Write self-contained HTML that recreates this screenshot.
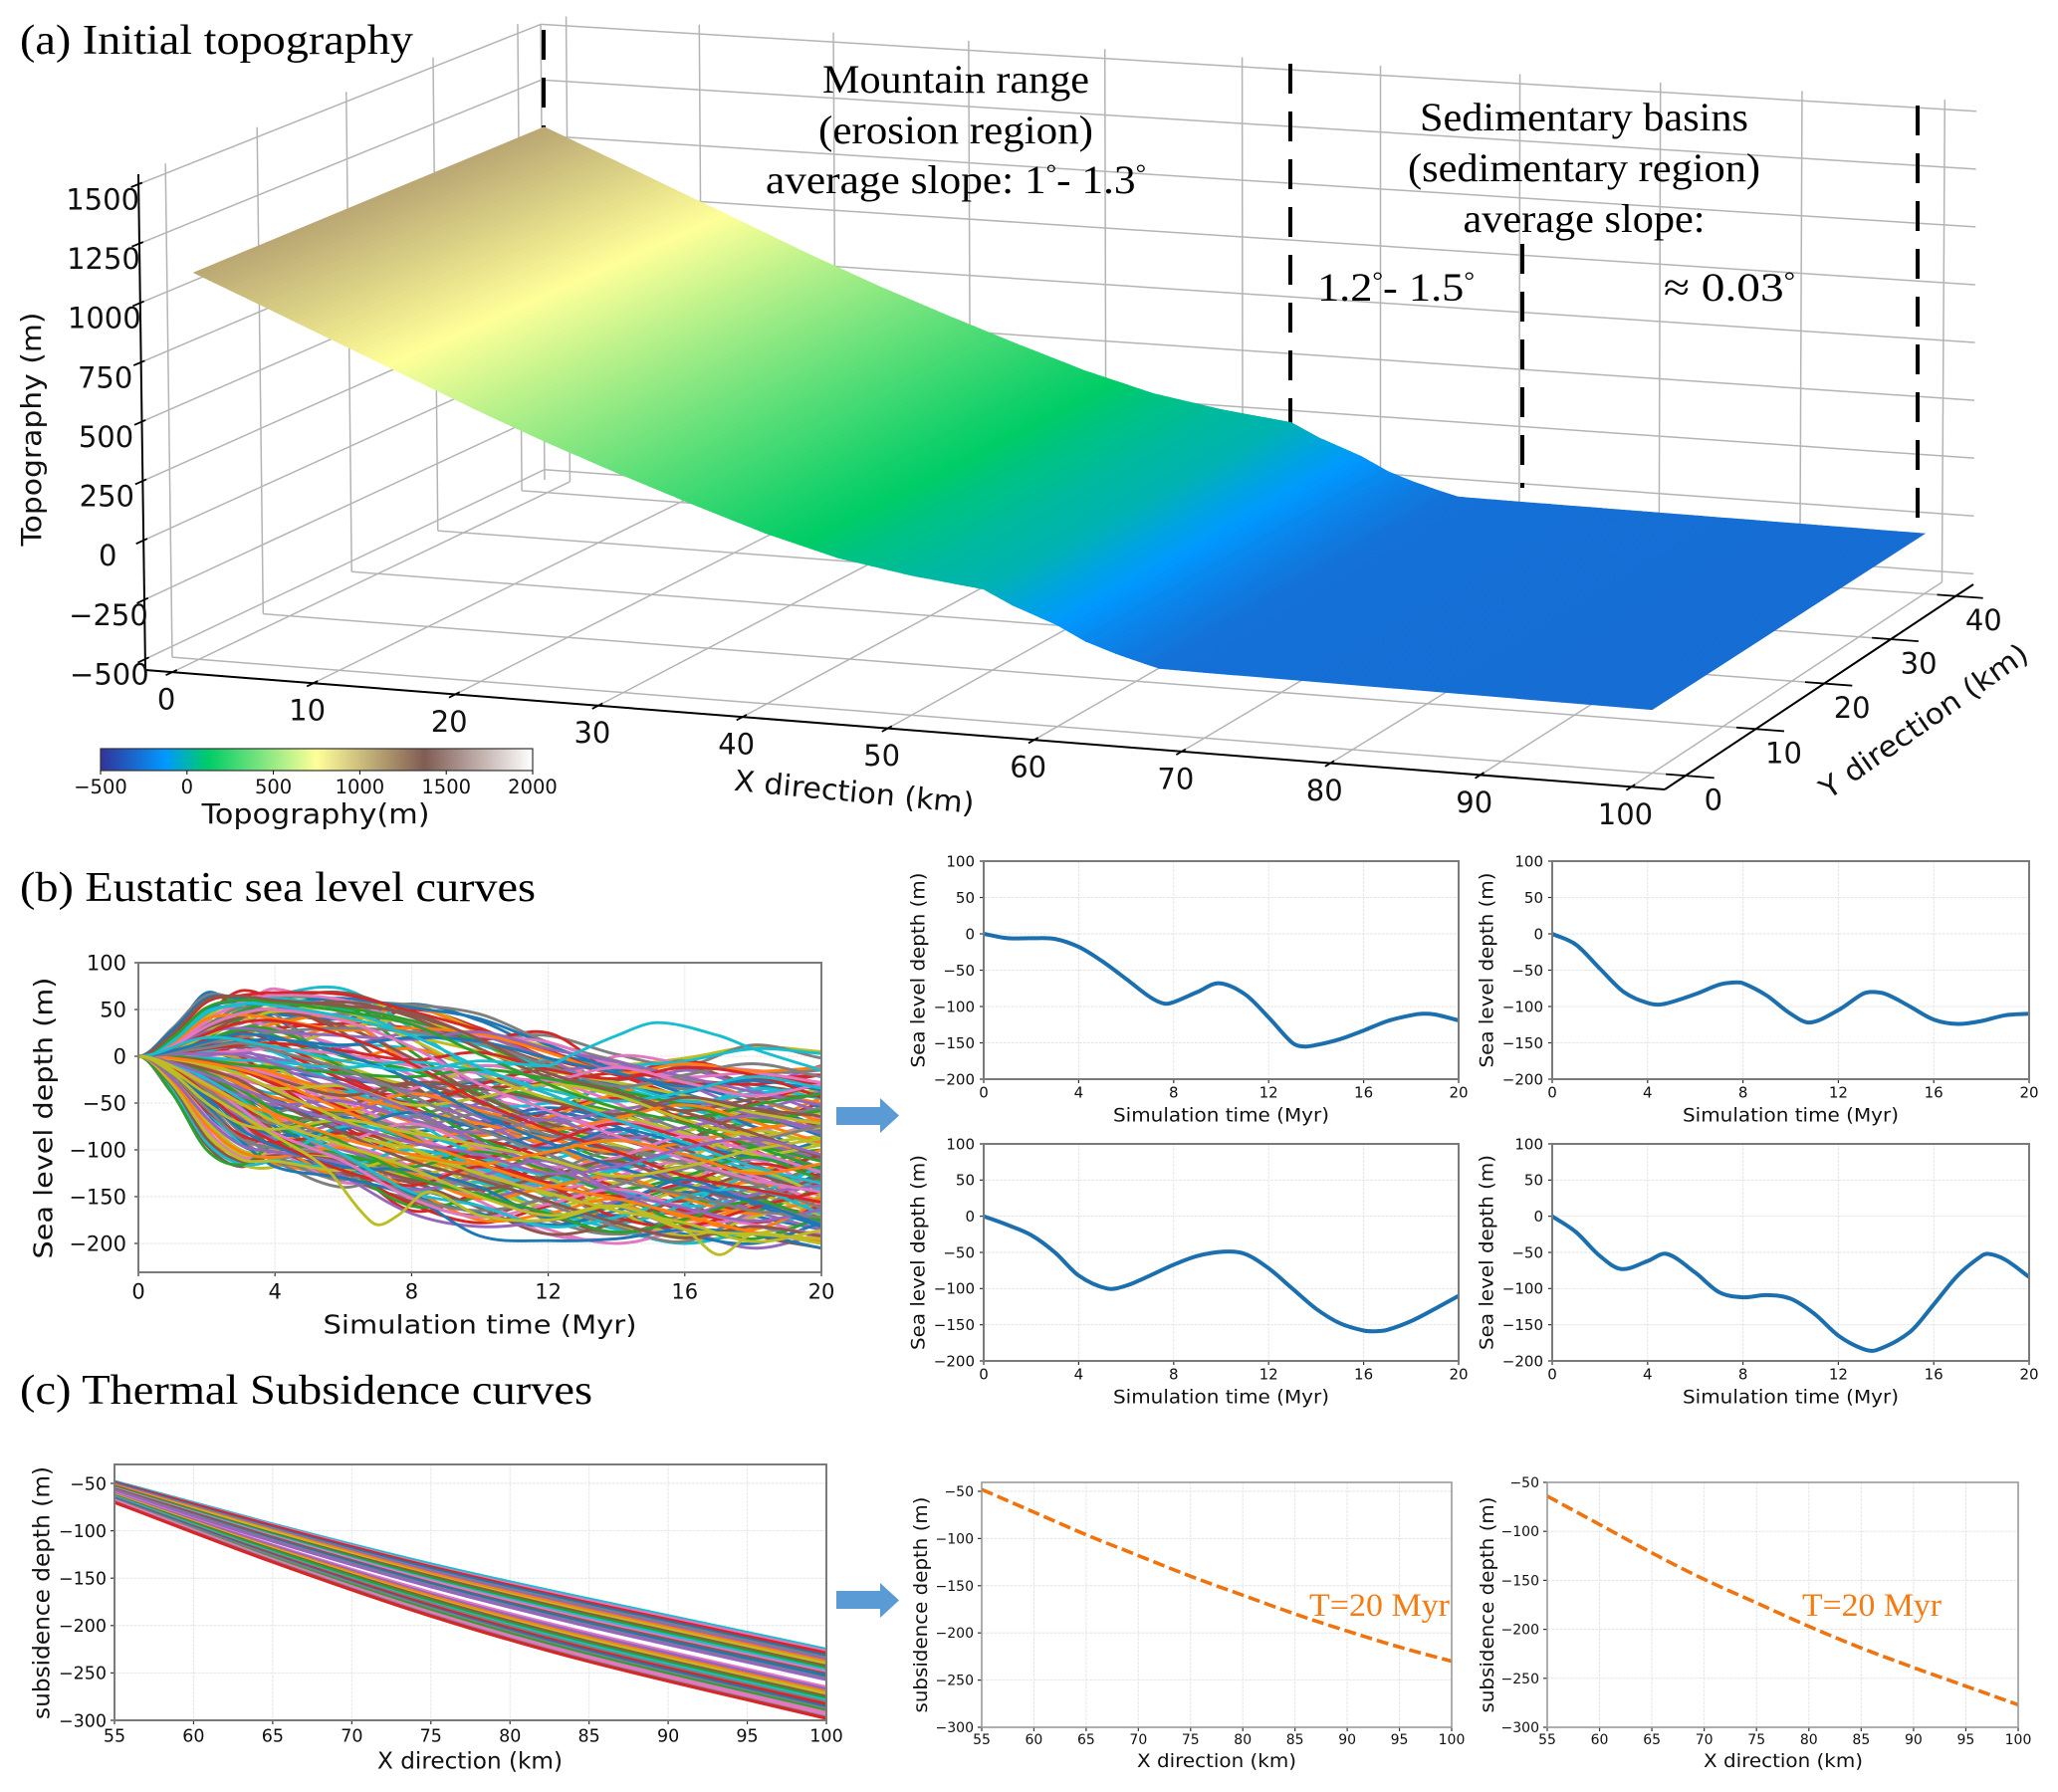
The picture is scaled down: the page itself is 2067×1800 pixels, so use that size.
<!DOCTYPE html>
<html lang="en">
<head>
<meta charset="utf-8">
<title>Initial topography, eustatic sea level and thermal subsidence curves</title>
<style>
html,body{margin:0;padding:0;background:#fff;}
svg{display:block;}
.serif{font-family:"Liberation Serif",serif;fill:#000;}
.sans{font-family:"DejaVu Sans",sans-serif;fill:#111;}
</style>
</head>
<body>
<svg id="fig" xmlns="http://www.w3.org/2000/svg" width="2067" height="1800" viewBox="0 0 2067 1800">
  <rect x="0" y="0" width="2067" height="1800" fill="#fff"/>
  <defs>
    <linearGradient id="terrainGrad" x1="0" y1="0" x2="1" y2="0"></linearGradient>
    <clipPath id="clipB"><rect x="139" y="967" width="686" height="311"/></clipPath>
    <clipPath id="clipC"><rect x="115" y="1471" width="715" height="257"/></clipPath>
  </defs>
  <g id="layer3d"></g>
  <g id="layerPlots"></g>

  <text class="serif" x="20" y="54" font-size="42" textLength="395" lengthAdjust="spacingAndGlyphs">(a) Initial topography</text>
  <text class="serif" x="20" y="905" font-size="42" textLength="518" lengthAdjust="spacingAndGlyphs">(b) Eustatic sea level curves</text>
  <text class="serif" x="20" y="1410" font-size="42" textLength="575" lengthAdjust="spacingAndGlyphs">(c) Thermal Subsidence curves</text>

  <text class="serif" x="960" y="93" font-size="40" text-anchor="middle" textLength="268" lengthAdjust="spacingAndGlyphs">Mountain range</text>
  <text class="serif" x="960" y="144" font-size="40" text-anchor="middle" textLength="276" lengthAdjust="spacingAndGlyphs">(erosion region)</text>
  <text class="serif" x="769" y="194" font-size="40" textLength="382" lengthAdjust="spacingAndGlyphs">average slope: 1<tspan dy="-12" font-size="24">°</tspan><tspan dy="12">- 1.3</tspan><tspan dy="-12" font-size="24">°</tspan></text>
  <text class="serif" x="1591" y="131" font-size="40" text-anchor="middle" textLength="330" lengthAdjust="spacingAndGlyphs">Sedimentary basins</text>
  <text class="serif" x="1591" y="182" font-size="40" text-anchor="middle" textLength="354" lengthAdjust="spacingAndGlyphs">(sedimentary region)</text>
  <text class="serif" x="1591" y="233" font-size="40" text-anchor="middle" textLength="243" lengthAdjust="spacingAndGlyphs">average slope:</text>
  <text class="serif" x="1323" y="302" font-size="40" textLength="158" lengthAdjust="spacingAndGlyphs">1.2<tspan dy="-12" font-size="24">°</tspan><tspan dy="12">- 1.5</tspan><tspan dy="-12" font-size="24">°</tspan></text>
  <text class="serif" x="1671" y="302" font-size="40" textLength="132" lengthAdjust="spacingAndGlyphs">≈ 0.03<tspan dy="-12" font-size="24">°</tspan></text>

  <text class="serif" x="1315" y="1623" font-size="33" style="fill:#f57c13" textLength="141" lengthAdjust="spacingAndGlyphs">T=20 Myr</text>
  <text class="serif" x="1810" y="1623" font-size="33" style="fill:#f57c13" textLength="140" lengthAdjust="spacingAndGlyphs">T=20 Myr</text>

  <polygon fill="#5b9bd5" points="840,1112 884,1112 884,1103 903,1120.5 884,1138 884,1130 840,1130"/>
  <polygon fill="#5b9bd5" points="840,1598 884,1598 884,1590 903,1607.5 884,1625 884,1616 840,1616"/>
</svg>
<script>
/* ---------- 3D surface data ---------- */
const topoX = [0,5,10,15,20,25,30,35,40,45,50,55,57,60,62,64,66,67,70,80,90,100];
const topoZ = [1088,965,840,716,591,474,366,263,165,85,35,0,-58,-125,-185,-225,-258,-273,-275,-279,-283,-287];
const xTicks3d = [0,10,20,30,40,50,60,70,80,90,100];
const yTicks3d = [0,10,20,30,40];
const zTicks3d = [-500,-250,0,250,500,750,1000,1250,1500];
const cbarTicks = [-500,0,500,1000,1500,2000];

/* ---------- sea-level data ---------- */
const spagT = [0,1,2,3,4,6,8,10,12,14,16,18,20];
const spagRows = [
[0,25,68,50,45,40,56,38,5,-12,-30,-50,-75],
[0,15,45,70,60,30,50,30,-2,-20,-45,-70,-50],
[0,12,40,55,72,45,-5,-30,-50,-45,-60,-90,-120],
[0,10,30,50,65,72,30,-20,-60,-90,-80,-60,-85],
[0,20,60,58,35,-10,-40,-30,-10,-30,-70,-110,-100],
[0,8,25,45,60,68,45,18,-8,-25,-12,-30,-40],
[0,14,42,60,55,50,55,28,10,-8,-2,10,5],
[0,18,52,45,20,35,52,25,-5,-30,-60,-70,-45],
[0,10,28,35,50,60,20,-35,-65,-40,-15,-35,-60],
[0,6,18,30,38,45,35,20,22,2,-10,12,-2],
[0,16,50,58,40,5,-25,-60,-85,-70,-40,-30,-55],
[0,5,15,25,30,35,30,18,25,-15,-5,-20,-30],
[0,12,35,40,30,10,-20,-45,-30,0,-8,-15,-20],
[0,9,22,15,5,12,8,-10,-5,-10,-5,8,3],
[0,7,20,40,62,55,5,-45,-85,-110,-90,-70,-80],
[0,11,30,48,55,25,-30,-70,-60,-30,-50,-85,-70],
[0,13,38,25,10,30,38,15,-30,-65,-80,-50,-35],
[0,6,12,22,35,40,-10,-50,-95,-120,-100,-90,-110],
[0,4,14,8,-5,10,25,22,-3,-35,-15,-30,-10],
[0,10,33,52,45,-20,-60,-40,-5,-15,-35,-20,-15],
[0,3,6,-5,-15,-25,-30,-28,-25,-30,-45,-60,-85],
[0,2,-2,-12,-22,-35,-42,-35,-28,-18,-25,-30,-20],
[0,-3,-12,-25,-32,-30,-40,-45,-60,-80,-100,-90,-70],
[0,-4,-15,-30,-40,-38,-48,-55,-50,-35,-55,-75,-95],
[0,-6,-20,-40,-60,-70,-55,-35,-45,-60,-85,-105,-100],
[0,1,5,10,5,-15,-35,-60,-80,-100,-125,-140,-120],
[0,2,8,18,12,-10,-30,-15,-25,-55,-45,-65,-60],
[0,-2,-8,-18,-15,-5,8,-15,-40,-70,-60,-40,-50],
[0,4,10,2,-10,-40,-65,-50,-20,-10,-30,-55,-38],
[0,-5,-18,-35,-50,-75,-45,-25,-40,-75,-95,-70,-55],
[0,-8,-28,-45,-55,-65,-80,-70,-55,-65,-50,-75,-110],
[0,3,12,25,15,-20,-55,-75,-60,-45,-70,-100,-130],
[0,1,-1,-6,-20,-50,-35,-10,-25,-50,-85,-80,-65],
[0,-3,-10,-15,-8,-30,-60,-95,-110,-85,-60,-35,-45],
[0,5,16,30,28,0,-15,-40,-75,-95,-115,-125,-105],
[0,-7,-22,-48,-70,-55,-30,-50,-85,-105,-90,-60,-75],
[0,-6,-25,-52,-68,-90,-75,-55,-70,-95,-115,-95,-85],
[0,2,4,-3,-18,-45,-70,-85,-65,-40,-25,-45,-70],
[0,-2,-6,-12,-28,-60,-40,-65,-95,-80,-65,-90,-120],
[0,-9,-30,-55,-60,-40,-62,-90,-75,-60,-80,-115,-140],
[0,-4,-14,-28,-45,-80,-95,-75,-60,-75,-105,-110,-90],
[0,6,18,20,8,-25,-50,-30,-15,-35,-65,-50,-28],
[0,-5,-16,-22,-35,-55,-85,-105,-90,-70,-85,-120,-150],
[0,-7,-26,-50,-65,-100,-110,-95,-100,-115,-100,-105,-125],
[0,-8,-30,-60,-80,-70,-90,-115,-130,-110,-125,-140,-115],
[0,-3,-9,-20,-38,-72,-100,-120,-105,-85,-100,-130,-160],
[0,1,2,0,-12,-52,-78,-100,-120,-135,-110,-80,-95],
[0,-6,-24,-44,-75,-115,-95,-80,-95,-125,-145,-125,-100],
[0,-10,-35,-70,-85,-70,-50,-70,-105,-130,-120,-95,-110],
[0,-4,-13,-32,-58,-95,-120,-140,-125,-100,-115,-145,-130],
[0,-11,-40,-75,-95,-85,-110,-100,-85,-105,-135,-150,-125],
[0,3,9,0,-28,-75,-105,-90,-110,-140,-155,-130,-105],
[0,-5,-20,-38,-62,-105,-130,-115,-95,-120,-130,-110,-145],
[0,-7,-28,-58,-88,-110,-85,-105,-135,-120,-105,-135,-165],
[0,-9,-34,-65,-78,-60,-85,-125,-145,-130,-150,-165,-140],
[0,-36,-95,-118,-100,-95,-120,-150,-170,-190,-175,-160,-170],
[0,-30,-85,-115,-118,-90,-100,-135,-165,-180,-195,-190,-175],
[0,-32,-90,-105,-115,-125,-110,-130,-155,-170,-150,-135,-155],
[0,-24,-70,-100,-108,-105,-135,-120,-145,-160,-185,-205,-190],
[0,-40,-80,-110,-112,-130,-150,-125,-140,-175,-165,-180,-200],
[0,-14,-60,-95,-105,-120,-140,-160,-180,-165,-145,-170,-185],
[0,-12,-55,-85,-95,-115,-165,-145,-120,-150,-170,-155,-135],
[0,-16,-65,-90,-100,-135,-125,-155,-190,-195,-180,-175,-195],
[0,-10,-45,-80,-108,-120,-145,-135,-165,-185,-200,-185,-165],
[0,-13,-50,-75,-90,-105,-130,-170,-175,-160,-140,-150,-180],
[0,-11,-42,-70,-98,-128,-155,-170,-150,-130,-155,-190,-205],
[0,-18,-72,-105,-100,-85,-105,-140,-160,-145,-125,-145,-170],
[0,-8,-32,-62,-92,-130,-115,-100,-125,-155,-175,-160,-145],
[0,-9,-38,-68,-85,-100,-125,-150,-135,-115,-135,-165,-185],
[0,-12,-48,-88,-112,-140,-120,-145,-175,-190,-168,-140,-120],
[0,-7,-30,-55,-75,-112,-148,-168,-182,-170,-190,-200,-178],
[0,-6,-24,-50,-82,-120,-158,-178,-160,-145,-165,-178,-160],
[0,-10,-36,-72,-102,-95,-118,-155,-185,-200,-185,-170,-150],
[0,-14,-58,-92,-110,-118,-100,-118,-150,-178,-158,-128,-142],
[0,-4,-18,-42,-70,-118,-160,-150,-130,-148,-180,-195,-172],
[0,-5,-22,-46,-80,-125,-135,-162,-190,-178,-150,-125,-135],
[0,-17,-68,-100,-104,-110,-128,-112,-130,-165,-192,-172,-150],
[0,-3,-12,-30,-65,-108,-142,-175,-168,-152,-172,-185,-155],
[0,-8,-33,-66,-90,-128,-168,-182,-175,-155,-138,-152,-178],
[0,-11,-44,-82,-106,-132,-108,-128,-158,-182,-198,-165,-130],
[0,-13,-52,-90,-118,-130,-150,-192,-197,-195,-185,-190,-205],
[0,-2,-7,-15,-30,-55,-90,-110,-135,-150,-135,-115,-128],
[0,-1,-4,-10,-22,-48,-82,-122,-142,-128,-112,-128,-158],
[0,2,6,12,4,-32,-68,-108,-128,-142,-160,-148,-118],
[0,4,14,28,22,-12,-48,-88,-112,-128,-118,-98,-112],
[0,7,24,42,48,32,-2,-42,-72,-88,-108,-125,-148],
[0,9,28,44,52,48,18,-18,-45,-62,-82,-105,-95],
[0,-1,-3,-8,-18,-40,-58,-72,-88,-102,-92,-78,-68],
[0,0,1,4,-2,-20,-38,-55,-68,-58,-48,-62,-78],
[0,30,65,60,55,58,55,45,15,-5,-25,-45,-65],
[0,28,62,62,58,62,52,40,12,-15,-40,-60,-85],
[0,22,58,65,68,66,48,28,6,-20,-30,-25,-20],
[0,12,38,58,65,60,35,22,15,-10,-22,-18,-28],
[0,18,48,55,62,50,25,12,-12,-28,-48,-40,-32],
[0,10,32,48,58,52,38,15,-18,-36,-52,-68,-58],
[0,8,30,42,50,58,42,8,-22,-42,-58,-46,-42],
[0,6,22,36,48,42,22,5,-15,-28,-42,-60,-72],
[0,14,40,44,40,28,30,24,4,-18,-8,-16,-12],
[0,9,26,30,26,22,18,26,8,-6,-22,-38,-52],
[0,5,14,20,26,30,26,14,-10,-32,-20,-8,-22],
[0,4,10,16,18,12,20,16,-2,-18,-32,-26,-36],
[0,3,8,12,14,6,-4,4,-14,-24,-12,-20,-44],
[0,1,3,6,8,2,-10,-18,-26,-12,-28,-42,-30],
[0,-1,-2,-4,-6,-12,-6,-16,-36,-48,-38,-22,-34],
[0,0,-4,-9,-12,-18,-22,-14,-24,-40,-66,-52,-40],
[0,-2,-5,-14,-24,-42,-28,-34,-48,-62,-44,-56,-64],
[0,-3,-8,-20,-34,-32,-52,-44,-30,-42,-68,-84,-76],
[0,-5,-14,-30,-44,-58,-40,-58,-78,-66,-52,-70,-92],
[0,-10,-28,-42,-52,-48,-68,-82,-68,-88,-76,-64,-82],
[0,-12,-36,-58,-72,-62,-76,-62,-84,-98,-112,-92,-74],
[0,-15,-44,-68,-84,-78,-60,-78,-98,-78,-94,-108,-118],
[0,-20,-58,-84,-92,-82,-92,-108,-92,-72,-88,-118,-136],
[0,-28,-78,-108,-104,-92,-72,-98,-118,-108,-86,-102,-124],
[0,-35,-92,-115,-110,-75,-88,-120,-138,-122,-105,-122,-142],
[0,-40,-100,-116,-95,-105,-118,-102,-122,-142,-128,-108,-132],
[0,-32,-88,-112,-106,-112,-132,-142,-128,-112,-138,-152,-128],
[0,-30,-82,-110,-112,-122,-108,-125,-148,-160,-142,-122,-148],
[0,-26,-74,-102,-108,-98,-125,-152,-140,-128,-152,-168,-152],
[0,-24,-66,-95,-102,-115,-142,-128,-112,-145,-168,-148,-138],
[0,-20,-56,-88,-98,-108,-150,-165,-152,-138,-118,-136,-162],
[0,-16,-46,-78,-96,-118,-122,-140,-172,-158,-132,-158,-182],
[0,-14,-40,-70,-92,-122,-138,-118,-138,-172,-182,-162,-144],
[0,-10,-30,-56,-82,-112,-152,-172,-158,-142,-162,-180,-190],
[0,-8,-24,-46,-70,-105,-145,-160,-182,-172,-150,-142,-168],
[0,-6,-18,-36,-58,-92,-128,-148,-168,-188,-174,-155,-176],
[0,-5,-14,-26,-48,-82,-112,-132,-155,-178,-194,-182,-192],
[0,-3,-10,-20,-36,-68,-98,-126,-146,-165,-178,-198,-186],
[0,-2,-7,-14,-26,-58,-88,-115,-138,-152,-170,-188,-198],
[0,2,3,1,-8,-30,-58,-92,-118,-145,-162,-176,-164],
[0,4,9,14,6,-14,-42,-78,-105,-132,-148,-165,-172],
[0,6,16,24,20,2,-25,-62,-92,-118,-138,-155,-180],
[0,9,24,36,38,22,-8,-48,-78,-102,-128,-142,-156],
[0,11,32,46,50,38,10,-30,-58,-85,-110,-132,-145],
[0,16,46,56,54,42,22,-12,-40,-68,-92,-118,-136],
[0,20,52,60,58,48,34,2,-30,-55,-72,-96,-120],
[0,24,60,64,60,54,46,18,-18,-38,-60,-82,-108],
[0,-18,-50,-72,-78,-68,-82,-95,-110,-128,-118,-100,-88],
[0,-11,-32,-50,-62,-88,-105,-115,-102,-90,-105,-125,-115],
[0,-7,-20,-34,-48,-72,-92,-105,-125,-118,-98,-88,-105]
];
const cyanT = [0,2,4,6,8,10,12,12.6,14,15.2,17,18,20];
const cyanV = [0,20,10,-5,-15,-5,-10,0,22,36,22,8,-15];
const oliveT = [0,2,4,5.5,6.5,7,7.6,8.5,10,12,14,16,18,20];
const oliveV = [0,-40,-85,-120,-165,-180,-170,-145,-170,-175,-160,-185,-190,-195];
const olive2T = [0,2,4,6,8,10,12,14,16,17,18,20];
const olive2V = [0,-30,-70,-95,-120,-150,-170,-160,-185,-212,-190,-200];

const seaT1 = [0,1,2,3,4,5,6,7,7.6,8,9,9.9,11,12,13,13.5,14,15,16,17,18,18.5,19,20];
const seaV1 = [0,-6,-6,-7,-18,-38,-62,-87,-96,-94,-80,-68,-83,-115,-150,-155,-153,-145,-133,-120,-112,-110,-111,-119];
const seaT2 = [0,1,2,3,4,4.6,6,7,7.6,8,9,10,10.8,12,13,13.4,14,15,16,17,18,19,20];
const seaV2 = [0,-15,-48,-80,-95,-97,-83,-70,-67,-68,-85,-110,-122,-105,-83,-80,-83,-100,-118,-124,-120,-112,-110];
const seaT3 = [0,1,2,3,4,5.2,6,7,8,9,10.1,11,12,13,14,15,16,16.5,17,18,19,20];
const seaV3 = [0,-12,-26,-50,-82,-100,-96,-82,-67,-55,-49,-52,-72,-100,-128,-148,-158,-159,-157,-145,-128,-110];
const seaT4 = [0,1,2,2.9,4,4.8,6,7,8,9,10,11,12,13,13.6,15,16,17,18,18.3,19,20];
const seaV4 = [0,-22,-55,-73,-62,-52,-78,-105,-112,-109,-114,-135,-165,-183,-185,-160,-122,-82,-55,-52,-60,-84];
const timeTicks = [0,4,8,12,16,20];
const seaTicksBig = [100,50,0,-50,-100,-150,-200];
const seaTicksSmall = [100,50,0,-50,-100,-150,-200];

/* ---------- subsidence data ---------- */
const subsX = [55,65,75,85,100];
const subsRows = [
[-48,-93,-135,-172,-225],[-49,-94,-137,-174,-227],[-49,-95,-138,-176,-229],[-50,-97,-140,-178,-232],
[-51,-98,-142,-180,-234],[-51,-99,-143,-182,-236],[-52,-100,-145,-184,-238],[-53,-101,-147,-186,-240],
[-53,-103,-148,-188,-243],[-54,-104,-150,-190,-245],[-55,-105,-152,-192,-247],[-55,-106,-153,-194,-249],
[-56,-107,-155,-196,-251],[-57,-109,-156,-198,-253],[-57,-110,-158,-200,-256],[-58,-111,-159,-201,-257],
[-60,-115,-165,-208,-265],[-61,-116,-167,-210,-267],[-62,-118,-169,-213,-270],[-62,-119,-171,-215,-272],
[-63,-120,-172,-217,-275],[-64,-121,-174,-219,-277],[-64,-123,-176,-221,-279],[-65,-124,-177,-223,-281],
[-66,-125,-179,-225,-283],[-66,-126,-181,-227,-286],[-67,-127,-182,-229,-288],[-68,-129,-184,-231,-290],
[-68,-130,-186,-233,-292],[-69,-131,-187,-235,-294],[-70,-132,-189,-237,-297],[-70,-133,-190,-238,-298]
];
const subsColorIdx = [9,6,3,0,7,4,1,8,5,2,9,6,5,0,7,4,6,4,1,8,5,2,9,7,3,0,7,2,6,6,7,3];
const subsTopX = [55,60,65,70,75,80,85,90,95,100];
const subsTopV1 = [-48,-72,-96,-118,-140,-160,-180,-198,-215,-230];
const subsTopV2 = [-64,-93,-122,-149,-173,-197,-219,-239,-258,-277];
const subsXTicks = [55,60,65,70,75,80,85,90,95,100];
const subsYTicks = [-50,-100,-150,-200,-250,-300];

/* ---------- helpers ---------- */
const NS = 'http://www.w3.org/2000/svg';
const layer3d = document.getElementById('layer3d');
const layerPlots = document.getElementById('layerPlots');
const tab10 = ['#1f77b4','#ff7f0e','#2ca02c','#d62728','#9467bd','#8c564b','#e377c2','#7f7f7f','#bcbd22','#17becf'];

function mk(tag, attrs, parent){
  const e = document.createElementNS(NS, tag);
  for (const k in attrs) e.setAttribute(k, attrs[k]);
  parent.appendChild(e);
  return e;
}
function fmt(v){ return String(v).replace('-', '\u2212'); }
function label(parent, name, str, x, y, size, opt){
  opt = opt || {};
  const a = {x:x, y:y, 'font-size':size, 'text-anchor':opt.anchor||'middle', dy:'.36em', class:'sans'};
  if (opt.len){ a.textLength = opt.len; a.lengthAdjust = 'spacingAndGlyphs'; }
  if (opt.rot!==undefined) a.transform = 'rotate('+opt.rot+' '+x+' '+y+')';
  const t = mk('text', a, parent);
  
  
  t.textContent = str;
  return t;
}
function line(parent, name, p, q, color, w, dash){
  const a = {x1:p[0], y1:p[1], x2:q[0], y2:q[1], stroke:color, 'stroke-width':w};
  if (dash) a['stroke-dasharray'] = dash;
  const l = mk('line', a, parent);
  
  
  return l;
}
/* cubic Hermite through points with finite-difference tangents */
function smooth(pts, flatStart){
  const n=pts.length, m=[];
  for (let i=0;i<n;i++){
    if (i===0) m.push(flatStart?0:(pts[1][1]-pts[0][1])/(pts[1][0]-pts[0][0]));
    else if (i===n-1) m.push((pts[n-1][1]-pts[n-2][1])/(pts[n-1][0]-pts[n-2][0]));
    else m.push((pts[i+1][1]-pts[i-1][1])/(pts[i+1][0]-pts[i-1][0]));
  }
  let d='M'+pts[0][0].toFixed(1)+' '+pts[0][1].toFixed(1);
  for (let i=0;i<n-1;i++){
    const dx=(pts[i+1][0]-pts[i][0])/3;
    d+='C'+(pts[i][0]+dx).toFixed(1)+' '+(pts[i][1]+m[i]*dx).toFixed(1)+' '+(pts[i+1][0]-dx).toFixed(1)+' '+(pts[i+1][1]-m[i+1]*dx).toFixed(1)+' '+pts[i+1][0].toFixed(1)+' '+pts[i+1][1].toFixed(1);
  }
  return d;
}

/* ---------- colormap ---------- */
const cmapPos = [0,0.15,0.25,0.5,0.75,1];
const cmapRGB = [[51,51,153],[0,153,255],[0,204,102],[255,255,153],[128,92,84],[255,255,255]];
function terrain(t){
  t = Math.max(0,Math.min(1,t));
  for (let i=0;i<cmapPos.length-1;i++){
    if (t<=cmapPos[i+1]){
      const f=(t-cmapPos[i])/(cmapPos[i+1]-cmapPos[i]);
      const c=cmapRGB[i].map((v,j)=>Math.round(v+(cmapRGB[i+1][j]-v)*f));
      return 'rgb('+c.join(',')+')';
    }
  }
  return 'rgb(255,255,255)';
}
function zColor(z){ return terrain((z+500)/2500); }

/* ---------- 3D projection ---------- */
const box = {xMin:-1.92,xMax:102.2,yMin:-2.9,yMax:42.76,zMin:-546,zMax:1542};
const C = {
  c000:[146,673], c100:[1672,793], c010:[547,482], c110:[1982,587],
  c001:[139,175], c101:[1671,276], c011:[543,15], c111:[1985,102]
};
function remap(u,w){ return u/(u+(1-u)*w); }
function P(x,y,z){
  const u=remap((x-box.xMin)/(box.xMax-box.xMin),1.041);
  const v=remap((y-box.yMin)/(box.yMax-box.yMin),0.941);
  const w=(z-box.zMin)/(box.zMax-box.zMin);
  const r=[];
  for (let i=0;i<2;i++){
    const a=C.c000[i]*(1-u)+C.c100[i]*u, b=C.c010[i]*(1-u)+C.c110[i]*u;
    const c=C.c001[i]*(1-u)+C.c101[i]*u, d=C.c011[i]*(1-u)+C.c111[i]*u;
    const lo=a*(1-v)+b*v, hi=c*(1-v)+d*v;
    r.push(lo*(1-w)+hi*w);
  }
  return r;
}

/* grid */
const gridC = '#b4b4b4';
xTicks3d.forEach(x=>{
  line(layer3d,'grid-x-floor',P(x,box.yMin,box.zMin),P(x,box.yMax,box.zMin),gridC,1.5);
  line(layer3d,'grid-x-wall',P(x,box.yMax,box.zMin),P(x,box.yMax,box.zMax),gridC,1.5);
});
yTicks3d.forEach(y=>{
  line(layer3d,'grid-y-floor',P(box.xMin,y,box.zMin),P(box.xMax,y,box.zMin),gridC,1.5);
  line(layer3d,'grid-y-wall',P(box.xMin,y,box.zMin),P(box.xMin,y,box.zMax),gridC,1.5);
});
zTicks3d.forEach(z=>{
  line(layer3d,'grid-z-left-wall',P(box.xMin,box.yMin,z),P(box.xMin,box.yMax,z),gridC,1.5);
  line(layer3d,'grid-z-back-wall',P(box.xMin,box.yMax,z),P(box.xMax,box.yMax,z),gridC,1.5);
});
line(layer3d,'pane-edge-corner',P(box.xMin,box.yMax,box.zMin),P(box.xMin,box.yMax,1500),gridC,1.5);

/* dashed region dividers */
const dashAttr = '30 18';
line(layer3d,'divider-mountain-start',[546,30],[546,128],'#000',4,dashAttr);
line(layer3d,'divider-mountain-end',[1296,64],[1296,425],'#000',4,dashAttr);
line(layer3d,'divider-basin-mid',[1529,245],[1529,490],'#000',4,dashAttr);
line(layer3d,'divider-basin-end',[1926,106],[1926,534],'#000',4,dashAttr);

/* surface */
const surf = mk('g',{},layer3d);


for (let i=0;i<topoX.length-1;i++){
  const n = Math.max(2,Math.round((topoX[i+1]-topoX[i])*2.5));
  for (let k=0;k<n;k++){
    const f0=k/n, f1=(k+1)/n;
    const x0=topoX[i]+(topoX[i+1]-topoX[i])*f0, x1=topoX[i]+(topoX[i+1]-topoX[i])*f1;
    const z0=topoZ[i]+(topoZ[i+1]-topoZ[i])*f0, z1=topoZ[i]+(topoZ[i+1]-topoZ[i])*f1;
    const col=zColor((z0+z1)/2);
    const pts=[P(x0,0,z0),P(x1,0,z1),P(x1,40,z1),P(x0,40,z0)].map(p=>p[0].toFixed(1)+','+p[1].toFixed(1)).join(' ');
    const q=mk('polygon',{points:pts,fill:col,stroke:col,'stroke-width':0.8},surf);
    
    
  }
}

/* axes */
line(layer3d,'x-axis-line',P(box.xMin,box.yMin,box.zMin),P(box.xMax,box.yMin,box.zMin),'#000',2);
line(layer3d,'y-axis-line',P(box.xMax,box.yMin,box.zMin),P(box.xMax,box.yMax,box.zMin),'#000',2);
line(layer3d,'z-axis-line',P(box.xMin,box.yMin,box.zMin),P(box.xMin,box.yMin,box.zMax),'#000',2);
xTicks3d.forEach(x=>{
  line(layer3d,'x-tick',P(x,box.yMin-0.7,box.zMin),P(x,box.yMin+0.5,box.zMin),'#000',1.8);
  const p=P(x,box.yMin,box.zMin);
  label(layer3d,'x-tick-label',fmt(x),p[0]-6,p[1]+27,29);
});
yTicks3d.forEach(y=>{
  line(layer3d,'y-tick',P(box.xMax-1.3,y,box.zMin),P(box.xMax+1.9,y,box.zMin),'#000',1.8);
  const p=P(box.xMax,y,box.zMin);
  label(layer3d,'y-tick-label',fmt(y),p[0]+28,p[1]+24,29);
});
zTicks3d.forEach(z=>{
  line(layer3d,'z-tick',P(box.xMin,box.yMin-0.8,z),P(box.xMin,box.yMin+0.4,z),'#000',1.8);
  const p=P(box.xMin,box.yMin,z);
  label(layer3d,'z-tick-label',fmt(z),p[0]-36,p[1]+15,29);
});
label(layer3d,'x-axis-title','X direction (km)',858,795,29,{len:242,rot:5.5});
label(layer3d,'y-axis-title','Y direction (km)',1932,724,29,{len:248,rot:-35});
label(layer3d,'z-axis-title','Topography (m)',31,431,28,{len:235,rot:-90});

/* colorbar */
const grad=document.getElementById('terrainGrad');
cmapPos.forEach((p,i)=>{
  mk('stop',{offset:p,'stop-color':'rgb('+cmapRGB[i].join(',')+')'},grad);
});
const cbX=v=>101+(v+500)/2500*434;
const cb=mk('rect',{x:cbX(-500),y:752,width:cbX(2000)-cbX(-500),height:22,fill:'url(#terrainGrad)',stroke:'#333','stroke-width':1.2},layer3d);


cbarTicks.forEach(v=>{
  line(layer3d,'colorbar-tick',[cbX(v),774],[cbX(v),778],'#000',1);
  label(layer3d,'colorbar-tick-label',fmt(v),cbX(v),790,19.5);
});
label(layer3d,'colorbar-title','Topography(m)',317,817,28,{len:229});

/* ---------- 2D plots ---------- */
function axes2d(cfg){
  const sx=v=>cfg.x0+(v-cfg.xa)/(cfg.xb-cfg.xa)*(cfg.x1-cfg.x0);
  const sy=v=>cfg.yRef0+(v-cfg.ya)/(cfg.yb-cfg.ya)*(cfg.yRef1-cfg.yRef0);
  const g=mk('g',{},layerPlots);
  
  
  cfg.xticks.forEach(v=>{
    line(g,'grid-line-x',[sx(v),cfg.top],[sx(v),cfg.bottom],'#e6e6e6',1,'3 1');
    line(g,'x-tick',[sx(v),cfg.bottom],[sx(v),cfg.bottom+4],'#333',1.2);
    label(g,'x-tick-label',fmt(v),sx(v),cfg.bottom+cfg.xlOff,cfg.fs);
  });
  cfg.yticks.forEach(v=>{
    line(g,'grid-line-y',[cfg.x0,sy(v)],[cfg.x1,sy(v)],'#e6e6e6',1,'3 1');
    line(g,'y-tick',[cfg.x0-4,sy(v)],[cfg.x0,sy(v)],'#333',1.2);
    label(g,'y-tick-label',fmt(v),cfg.x0-cfg.ylOff,sy(v),cfg.fs,{anchor:'end'});
  });
  label(g,'x-axis-title',cfg.xTitle,cfg.xtx,cfg.xty,cfg.tfs,{len:cfg.xtl});
  label(g,'y-axis-title',cfg.yTitle,cfg.ytx,cfg.yty,cfg.tfs,{len:cfg.ytl,rot:-90});
  return {g,sx,sy,finish(){
    const f=mk('rect',{x:cfg.x0,y:cfg.top,width:cfg.x1-cfg.x0,height:cfg.bottom-cfg.top,fill:'none',stroke:cfg.frame||'#7a7a7a','stroke-width':cfg.frameW||2},g);
    
    
  }};
}
function series(ax,name,xs,ys,color,w,extra,flat){
  const pts=xs.map((x,i)=>[ax.sx(x),ax.sy(ys[i])]);
  const a={d:smooth(pts,flat),fill:'none',stroke:color,'stroke-width':w,'stroke-linejoin':'round'};
  if (extra) for (const k in extra) a[k]=extra[k];
  const p=mk('path',a,ax.g);
  
  
  return p;
}

/* big sea-level panel */
const axB=axes2d({name:'sea-level-ensemble-chart',x0:139,x1:825,top:967,bottom:1278,xa:0,xb:20,ya:100,yb:-200,yRef0:967,yRef1:1249,
  xticks:timeTicks,yticks:seaTicksBig,fs:21,xlOff:19,ylOff:12,tfs:26,
  xTitle:'Simulation time (Myr)',xtx:482,xty:1330,xtl:315,yTitle:'Sea level depth (m)',ytx:43,yty:1123,ytl:283});
spagRows.forEach((row,i)=>{
  series(axB,'sea-level-curve',spagT,row,tab10[(i*3)%10],2.9,{'clip-path':'url(#clipB)'},true);
});
series(axB,'sea-level-curve-cyan',cyanT,cyanV,tab10[9],2.9,{'clip-path':'url(#clipB)'},true);
series(axB,'sea-level-curve-olive',oliveT,oliveV,tab10[8],2.9,{'clip-path':'url(#clipB)'},true);
series(axB,'sea-level-curve-olive-low',olive2T,olive2V,tab10[8],2.9,{'clip-path':'url(#clipB)'},true);
axB.finish();

/* four sea-level panels */
const smallPanels=[
 {name:'sea-level-sample-1',x0:988,x1:1465,top:865,bottom:1084,t:seaT1,v:seaV1,ytx:922},
 {name:'sea-level-sample-2',x0:1559,x1:2038,top:865,bottom:1084,t:seaT2,v:seaV2,ytx:1493},
 {name:'sea-level-sample-3',x0:988,x1:1465,top:1149,bottom:1367,t:seaT3,v:seaV3,ytx:922},
 {name:'sea-level-sample-4',x0:1559,x1:2038,top:1149,bottom:1367,t:seaT4,v:seaV4,ytx:1493}
];
smallPanels.forEach(c=>{
  const ax=axes2d({name:c.name,x0:c.x0,x1:c.x1,top:c.top,bottom:c.bottom,xa:0,xb:20,ya:100,yb:-200,yRef0:c.top,yRef1:c.bottom,
    xticks:timeTicks,yticks:seaTicksSmall,fs:15,xlOff:13,ylOff:9,tfs:18.5,
    xTitle:'Simulation time (Myr)',xtx:(c.x0+c.x1)/2,xty:c.bottom+36,xtl:217,yTitle:'Sea level depth (m)',ytx:c.ytx,yty:(c.top+c.bottom)/2,ytl:196});
  series(ax,'sea-level-curve',c.t,c.v,'#1b6fae',4);
  ax.finish();
});

/* subsidence ensemble */
const axC=axes2d({name:'subsidence-ensemble-chart',x0:115,x1:830,top:1471,bottom:1728,xa:55,xb:100,ya:-50,yb:-300,yRef0:1490,yRef1:1728,
  xticks:subsXTicks,yticks:subsYTicks,fs:17.5,xlOff:15,ylOff:8,tfs:23,
  xTitle:'X direction (km)',xtx:472,xty:1768,xtl:186,yTitle:'subsidence depth (m)',ytx:41,yty:1600,ytl:254});
subsRows.forEach((row,i)=>{
  series(axC,'subsidence-curve',subsX,row,tab10[subsColorIdx[i]],3.2,{'clip-path':'url(#clipC)'});
});
axC.finish();

/* two subsidence samples */
const subsPanels=[
 {name:'subsidence-sample-1',x0:986,x1:1458,y50:1498,v:subsTopV1,xtx:1222,ytx:924},
 {name:'subsidence-sample-2',x0:1554,x1:2027,y50:1489,v:subsTopV2,xtx:1791,ytx:1493}
];
subsPanels.forEach(c=>{
  const ax=axes2d({name:c.name,x0:c.x0,x1:c.x1,top:1489,bottom:1735,xa:55,xb:100,ya:-50,yb:-300,yRef0:c.y50,yRef1:1735,
    xticks:subsXTicks,yticks:subsYTicks,fs:14,xlOff:12,ylOff:8,tfs:19,frame:'#9a9a9a',frameW:1.6,
    xTitle:'X direction (km)',xtx:c.xtx,xty:1768,xtl:160,yTitle:'subsidence depth (m)',ytx:c.ytx,yty:1612,ytl:217});
  series(ax,'subsidence-curve',subsTopX,c.v,'#f0730e',3.6,{'stroke-dasharray':'12 5'});
  ax.finish();
});
</script>
</body>
</html>
